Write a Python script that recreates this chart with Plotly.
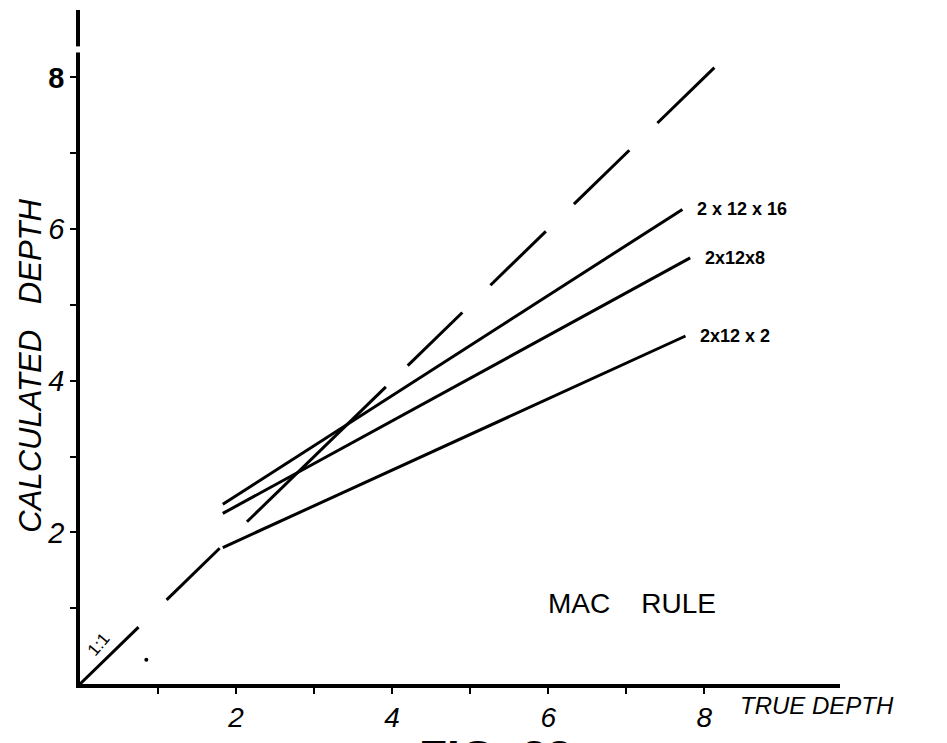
import plotly.graph_objects as go

# Series: calculated depth vs true depth (MAC rule), straight-line fits
series_names = ["2 x 12 x 16", "2x12x8", "2x12 x 2"]
true_start = [1.83, 1.83, 1.83]
calc_start = [2.37, 2.25, 1.80]
true_end = [7.72, 7.82, 7.76]
calc_end = [6.26, 5.62, 4.59]

# 1:1 reference line, drawn as hand-cut dashes (start / end true depth)
ref_dash_start = [0.00, 1.11, 2.14, 4.20, 5.26, 6.33, 7.40]
ref_dash_end = [0.75, 1.79, 3.92, 4.90, 5.97, 7.04, 8.13]

# stray point near the origin
speck_x = [0.85]
speck_y = [0.32]

x_tick_vals = [1, 2, 3, 4, 5, 6, 7, 8]
x_tick_text = ["", "<i>2</i>", "", "<i>4</i>", "", "<i>6</i>", "", "<i>8</i>"]
y_tick_vals = [1, 2, 3, 4, 5, 6, 7, 8]
y_tick_text = ["", "<i>2</i>", "", "<i>4</i>", "", "<i>6</i>", "", "<b>8</b>"]

X_MAX = 9.74
Y_MAX = 8.89

W, H = 947, 743
ML, MR, MT, MB = 80, 107, 10, 47
PW, PH = W - ML - MR, H - MT - MB


def px_x(px):
    """page pixel column -> paper x"""
    return (px - ML) / PW


def px_y(py):
    """page pixel row -> paper y"""
    return (H - MB - py) / PH


fig = go.Figure()

# 1:1 dashes
dx, dy = [], []
for a, b in zip(ref_dash_start, ref_dash_end):
    dx += [a, b, None]
    dy += [a, b, None]
fig.add_trace(go.Scatter(x=dx, y=dy, mode="lines",
                         line=dict(color="black", width=3),
                         hoverinfo="skip", showlegend=False))

# fitted lines
for name, x0, y0, x1, y1 in zip(series_names, true_start, calc_start, true_end, calc_end):
    fig.add_trace(go.Scatter(x=[x0, x1], y=[y0, y1], mode="lines", name=name,
                             line=dict(color="black", width=3),
                             showlegend=False))
    fig.add_annotation(x=x1 + 0.16, y=y1, text="<b>%s</b>" % name, showarrow=False,
                       xanchor="left", yanchor="middle",
                       font=dict(family="Liberation Sans", size=18, color="black"))

fig.add_trace(go.Scatter(x=speck_x, y=speck_y, mode="markers",
                         marker=dict(color="black", size=4),
                         hoverinfo="skip", showlegend=False))

font_axis = dict(family="Liberation Sans", color="black")

fig.update_xaxes(range=[0, X_MAX], showgrid=False, zeroline=False,
                 showline=True, linecolor="black", linewidth=3.5,
                 ticks="outside", ticklen=6, tickwidth=2, tickcolor="black",
                 tickvals=x_tick_vals, ticktext=x_tick_text,
                 tickfont=dict(size=28, **font_axis))
fig.update_yaxes(range=[0, Y_MAX], showgrid=False, zeroline=False,
                 showline=True, linecolor="black", linewidth=3.5,
                 ticks="outside", ticklen=6, tickwidth=2, tickcolor="black",
                 tickvals=y_tick_vals, ticktext=y_tick_text,
                 tickfont=dict(size=29, **font_axis))

# small break near the top of the vertical axis
fig.add_shape(type="rect", xref="paper", yref="y", x0=-0.01, x1=0.01,
              y0=8.33, y1=8.41, fillcolor="white", line=dict(width=0), layer="above")

# text
fig.add_annotation(xref="paper", yref="paper", x=px_x(31), y=px_y(372),
                   text="CALCULATED   DEPTH", textangle=-90,
                   showarrow=False, xanchor="center", yanchor="middle",
                   font=dict(size=31, style="italic", **font_axis))
fig.add_annotation(xref="paper", yref="paper", x=px_x(738), y=px_y(718),
                   text="TRUE DEPTH", showarrow=False,
                   xanchor="left", yanchor="middle",
                   font=dict(size=24, style="italic", **font_axis))
fig.add_annotation(xref="paper", yref="paper", x=px_x(546), y=px_y(614),
                   text="MAC    RULE", showarrow=False,
                   xanchor="left", yanchor="middle",
                   font=dict(family="Liberation Sans", size=28, color="black"))
fig.add_annotation(x=0.24, y=0.52, text="1:1", textangle=-50, showarrow=False,
                   xanchor="center", yanchor="middle",
                   font=dict(size=17, **font_axis))
fig.add_annotation(xref="paper", yref="paper", x=px_x(495), y=px_y(742),
                   text="<b>FIG. 23</b>", showarrow=False,
                   xanchor="center", yanchor="top",
                   font=dict(size=46, **font_axis))

fig.update_layout(width=W, height=H, autosize=False,
                  margin=dict(l=ML, r=MR, t=MT, b=MB, pad=0),
                  paper_bgcolor="white", plot_bgcolor="white",
                  showlegend=False)

fig.write_html("out.html")
